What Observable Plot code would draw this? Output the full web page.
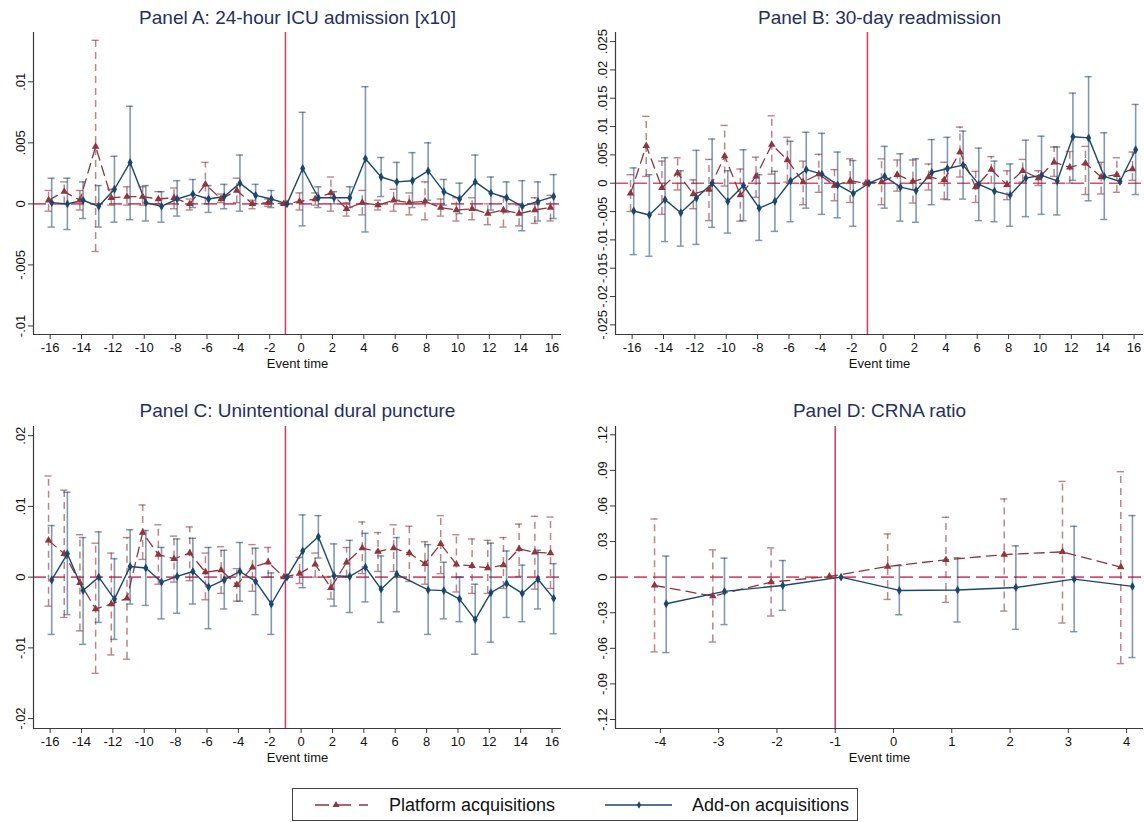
<!DOCTYPE html>
<html>
<head>
<meta charset="utf-8">
<script src="https://cdn.jsdelivr.net/npm/d3@7"></script>
<script src="https://cdn.jsdelivr.net/npm/@observablehq/plot@0.6"></script>
<style>
  html, body { margin: 0; padding: 0; background: #fff; }
  #wrap { position: relative; width: 1144px; height: 822px; background: #fff; font-family: "Liberation Sans", Arial, sans-serif; }
  .pnl { position: absolute; }
  .pnl svg { overflow: visible; }
  #legend { position: absolute; left: 292px; top: 788px; width: 564px; height: 31px; border: 1px solid #444; background: #fff; }
</style>
</head>
<body>
<div id="wrap">
  <div id="pA" class="pnl" style="left:0px;top:0px"></div>
  <div id="pB" class="pnl" style="left:572px;top:0px"></div>
  <div id="pC" class="pnl" style="left:0px;top:393px"></div>
  <div id="pD" class="pnl" style="left:572px;top:393px"></div>
  <div id="legend"></div>
</div>
<script>
// ---------- Data ----------
const eventTimes = d3.range(-16, 17);          // -16 .. 16
const eventTimesD = [-4, -3, -2, -1, 0, 1, 2, 3, 4];

const seriesNames = ["Platform acquisitions", "Add-on acquisitions"];
const panelTitles = [
  "Panel A: 24-hour ICU admission [x10]",
  "Panel B: 30-day readmission",
  "Panel C: Unintentional dural puncture",
  "Panel D: CRNA ratio"
];
const xLabel = "Event time";

const xTicksLong = [-16, -14, -12, -10, -8, -6, -4, -2, 0, 2, 4, 6, 8, 10, 12, 14, 16];
const xTicksD = [-4, -3, -2, -1, 0, 1, 2, 3, 4];
const yTicksA = [-0.01, -0.005, 0, 0.005, 0.01];
const yTicksB = [-0.025, -0.02, -0.015, -0.01, -0.005, 0, 0.005, 0.01, 0.015, 0.02, 0.025];
const yTicksC = [-0.02, -0.01, 0, 0.01, 0.02];
const yTicksD = [-0.12, -0.09, -0.06, -0.03, 0, 0.03, 0.06, 0.09, 0.12];

// Panel A
const platA   = [0.0003,0.0010,0.0003,0.0047,0.0005,0.0006,0.0006,0.0004,0.0005,0.0000,0.0016,0.0004,0.0011,0.0000,0.0001,0,
                 0.0002,0.0004,0.0009,-0.0004,0.0001,-0.0001,0.0003,0.0001,0.0002,-0.0003,-0.0005,-0.0004,-0.0008,-0.0005,-0.0008,-0.0005,-0.0003];
const platAhi = [0.0011,0.0018,0.0011,0.0134,0.0012,0.0014,0.0014,0.0010,0.0013,0.0004,0.0034,0.0008,0.0021,0.0003,0.0004,null,
                 0.0009,0.0009,0.0022,0.0001,0.0011,0.0003,0.0012,0.0009,0.0018,0.0004,0.0005,0.0005,0.0000,0.0006,-0.0001,0.0005,0.0007];
const platAlo = [-0.0006,0.0000,-0.0005,-0.0039,-0.0001,-0.0001,-0.0001,0.0000,-0.0004,-0.0005,0.0000,0.0001,0.0001,-0.0004,-0.0002,null,
                 -0.0005,-0.0001,-0.0006,-0.0010,-0.0009,-0.0005,-0.0006,-0.0009,-0.0013,-0.0010,-0.0014,-0.0013,-0.0017,-0.0019,-0.0018,-0.0016,-0.0014];
const addA    = [0.0001,0.0000,0.0003,-0.0002,0.0012,0.0034,0.0001,-0.0002,0.0004,0.0008,0.0004,0.0006,0.0017,0.0007,0.0004,0,
                 0.0029,0.0005,0.0005,0.0005,0.0037,0.0022,0.0018,0.0019,0.0027,0.0010,0.0004,0.0018,0.0009,0.0005,-0.0002,0.0002,0.0006];
const addAhi  = [0.0021,0.0021,0.0018,0.0015,0.0039,0.0080,0.0015,0.0010,0.0019,0.0020,0.0015,0.0016,0.0040,0.0016,0.0011,null,
                 0.0075,0.0014,0.0010,0.0014,0.0096,0.0038,0.0034,0.0042,0.0050,0.0020,0.0017,0.0040,0.0022,0.0018,0.0019,0.0018,0.0024];
const addAlo  = [-0.0019,-0.0021,-0.0012,-0.0019,-0.0015,-0.0013,-0.0014,-0.0015,-0.0010,-0.0003,-0.0007,-0.0004,-0.0006,0.0000,-0.0003,null,
                 -0.0018,-0.0003,0.0000,-0.0003,-0.0023,0.0006,0.0003,-0.0003,0.0003,-0.0001,-0.0008,-0.0005,-0.0005,-0.0007,-0.0022,-0.0014,-0.0012];

// Panel B
const platB   = [-0.0018,0.0066,-0.0008,0.0018,-0.0019,-0.0011,0.0048,-0.0021,0.0012,0.0068,0.0041,0.0002,0.0016,-0.0004,0.0004,0,
                 0.0002,0.0015,0.0003,0.0011,0.0006,0.0055,-0.0007,0.0024,-0.0003,0.0022,0.0009,0.0037,0.0028,0.0035,0.0011,0.0015,0.0025];
const platBhi = [0.0015,0.0118,0.0039,0.0045,0.0006,0.0042,0.0102,0.0025,0.0046,0.0119,0.0081,0.0039,0.0051,0.0024,0.0043,null,
                 0.0043,0.0041,0.0041,0.0034,0.0037,0.0099,0.0021,0.0047,0.0022,0.0042,0.0022,0.0064,0.0056,0.0065,0.0037,0.0045,0.0055];
const platBlo = [-0.0050,0.0012,-0.0055,-0.0012,-0.0045,-0.0066,-0.0005,-0.0067,-0.0025,0.0016,0.0002,-0.0038,-0.0016,-0.0031,-0.0034,null,
                 -0.0038,-0.0014,-0.0035,-0.0012,-0.0028,0.0011,-0.0034,0.0000,-0.0029,0.0002,-0.0004,0.0012,0.0000,-0.0020,-0.0019,-0.0016,0.0005];
const addB    = [-0.0049,-0.0056,-0.0029,-0.0052,-0.0026,0.0000,-0.0032,-0.0004,-0.0044,-0.0032,0.0004,0.0024,0.0016,-0.0003,-0.0018,0,
                 0.0012,-0.0007,-0.0013,0.0019,0.0026,0.0032,-0.0002,-0.0014,-0.0021,0.0009,0.0014,0.0004,0.0082,0.0080,0.0012,0.0003,0.0059];
const addBhi  = [0.0027,0.0015,0.0045,0.0022,0.0058,0.0078,0.0022,0.0059,0.0015,0.0021,0.0074,0.0090,0.0088,0.0055,0.0040,null,
                 0.0065,0.0052,0.0043,0.0077,0.0081,0.0092,0.0062,0.0039,0.0034,0.0076,0.0083,0.0064,0.0159,0.0188,0.0089,null,0.0139];
const addBlo  = [-0.0126,-0.0129,-0.0103,-0.0111,-0.0108,-0.0078,-0.0088,-0.0066,-0.0101,-0.0085,-0.0068,-0.0044,-0.0055,-0.0061,-0.0076,null,
                 -0.0044,-0.0067,-0.0069,-0.0038,-0.0029,-0.0028,-0.0066,-0.0068,-0.0076,-0.0059,-0.0055,-0.0056,0.0005,-0.0031,-0.0064,null,-0.0020];

// Panel C
const platC   = [0.0052,0.0033,-0.0008,-0.0045,-0.0038,-0.0030,0.0063,0.0032,0.0026,0.0034,0.0007,0.0010,-0.0011,0.0014,0.0021,0,
                 0.0005,0.0018,-0.0015,0.0021,0.0041,0.0036,0.0041,0.0034,0.0019,0.0047,0.0018,0.0016,0.0013,0.0017,0.0040,0.0035,0.0034];
const platChi = [0.0143,0.0123,0.0060,0.0048,0.0034,0.0056,0.0102,0.0074,0.0058,0.0071,0.0034,0.0043,0.0012,0.0046,0.0042,null,
                 0.0028,0.0034,0.0001,0.0042,0.0078,0.0063,0.0074,0.0072,0.0050,0.0087,0.0060,0.0054,0.0052,0.0056,0.0075,0.0086,0.0085];
const platClo = [-0.0041,-0.0057,-0.0076,-0.0136,-0.0110,-0.0116,0.0025,-0.0010,-0.0007,-0.0005,-0.0032,-0.0023,-0.0034,-0.0020,0.0000,null,
                 -0.0009,0.0000,-0.0031,0.0000,0.0005,0.0008,0.0008,-0.0006,-0.0010,0.0005,-0.0021,-0.0023,-0.0023,-0.0016,0.0001,-0.0017,-0.0016];
const addC    = [-0.0004,0.0033,-0.0019,0.0000,-0.0031,0.0015,0.0013,-0.0007,0.0001,0.0008,-0.0014,-0.0004,0.0008,-0.0006,-0.0038,0,
                 0.0037,0.0057,0.0002,0.0001,0.0014,-0.0017,0.0004,null,-0.0018,-0.0019,-0.0031,-0.0060,-0.0022,-0.0009,-0.0023,-0.0003,-0.0030];
const addChi  = [0.0073,0.0120,0.0056,0.0064,0.0026,0.0067,0.0066,0.0042,0.0054,0.0055,0.0042,0.0038,0.0049,0.0041,0.0006,null,
                 0.0088,0.0087,0.0047,0.0052,0.0062,0.0030,0.0056,null,0.0046,0.0021,0.0000,-0.0010,0.0048,0.0037,0.0017,0.0038,0.0019];
const addClo  = [-0.0081,-0.0053,-0.0095,-0.0064,-0.0088,-0.0038,-0.0040,-0.0059,-0.0051,-0.0038,-0.0073,-0.0045,-0.0034,-0.0053,-0.0081,null,
                 -0.0015,0.0027,-0.0041,-0.0050,-0.0035,-0.0064,-0.0049,null,-0.0081,-0.0059,-0.0063,-0.0109,-0.0092,-0.0057,-0.0063,-0.0045,-0.0080];

// Panel D
const platD   = [-0.0070,-0.0160,-0.0042,0.0006,0.0090,0.0146,0.0190,0.0213,0.0084];
const platDhi = [0.0490,0.0230,0.0247,null,0.0364,0.0505,0.0659,0.0807,0.0889];
const platDlo = [-0.0630,-0.0547,-0.0328,null,-0.0188,-0.0213,-0.0286,-0.0387,-0.0729];
const addD    = [-0.0224,-0.0120,-0.0070,0.0000,-0.0112,-0.0109,-0.0087,-0.0017,-0.0078];
const addDhi  = [0.0177,0.0160,0.0140,null,0.0098,0.0163,0.0264,0.0429,0.0519];
const addDlo  = [-0.0636,-0.0400,-0.0280,null,-0.0317,-0.0378,-0.0440,-0.0460,-0.0678];

// ---------- Styling ----------
const RED = "#90353b";
const BLUE = "#1a476f";
const REF = "#d23c5e";
const TITLE = "#1f3060";
const AXIS = "#3a3a3a";
const FONT = "'Liberation Sans', Arial, sans-serif";

const fmtY = d => d === 0 ? "0" : String(d).replace("0.", ".");

function rows(ts, est, hi, lo, off) {
  return ts.map((t, i) => ({t, x: t + off, est: est[i], hi: hi[i], lo: lo[i]}));
}

function panel(el, cfg) {
  const {title, ts, plat, platHi, platLo, add, addHi, addLo, xDomain, yDomain, xTicks, yTicks,
         width, height, mt, mb, ml, mr, titleDy} = cfg;
  const off = 0.1;
  const pR = rows(ts, plat, platHi, platLo, -off);
  const aR = rows(ts, add, addHi, addLo, off);
  const pxPerUnit = (width - ml - mr) / (xDomain[1] - xDomain[0]);
  const cap = 3.6 / pxPerUnit;
  const pCI = pR.filter(d => d.hi != null && d.lo != null);
  const aCI = aR.filter(d => d.hi != null && d.lo != null);
  const aLine = aR.filter(d => d.est != null);
  const pLine = pR.filter(d => d.est != null);

  const chart = Plot.plot({
    width, height,
    marginTop: mt, marginBottom: mb, marginLeft: ml, marginRight: mr,
    style: {fontFamily: FONT, fontSize: "13px", color: "#111", background: "transparent", overflow: "visible"},
    x: {domain: xDomain, axis: null},
    y: {domain: yDomain, axis: null},
    marks: [
      // reference lines
      Plot.ruleY([0], {stroke: REF, strokeWidth: 1.6, strokeDasharray: "13,6", strokeOpacity: 0.9}),
      Plot.ruleX([-1], {stroke: REF, strokeWidth: 1.5}),
      // platform CIs (dashed)
      Plot.ruleX(pCI, {x: "x", y1: "lo", y2: "hi", stroke: RED, strokeOpacity: 0.6, strokeWidth: 1.5, strokeDasharray: "7,5"}),
      Plot.ruleY(pCI, {y: "hi", x1: d => d.x - cap, x2: d => d.x + cap, stroke: RED, strokeOpacity: 0.6, strokeWidth: 1.4}),
      Plot.ruleY(pCI, {y: "lo", x1: d => d.x - cap, x2: d => d.x + cap, stroke: RED, strokeOpacity: 0.6, strokeWidth: 1.4}),
      // add-on CIs
      Plot.ruleX(aCI, {x: "x", y1: "lo", y2: "hi", stroke: BLUE, strokeOpacity: 0.55, strokeWidth: 1.6}),
      Plot.ruleY(aCI, {y: "hi", x1: d => d.x - cap, x2: d => d.x + cap, stroke: BLUE, strokeOpacity: 0.55, strokeWidth: 1.5}),
      Plot.ruleY(aCI, {y: "lo", x1: d => d.x - cap, x2: d => d.x + cap, stroke: BLUE, strokeOpacity: 0.55, strokeWidth: 1.5}),
      // estimate lines
      Plot.line(pLine, {x: "x", y: "est", stroke: RED, strokeWidth: 1.3, strokeDasharray: "10,6"}),
      Plot.line(aLine, {x: "x", y: "est", stroke: BLUE, strokeWidth: 1.4}),
      Plot.dot(pLine, {x: "x", y: "est", symbol: "triangle", r: 2.8, fill: RED, stroke: "none"}),
      Plot.dot(aLine, {x: "x", y: "est", symbol: "diamond", r: 2.7, fill: BLUE, stroke: "none"}),
      // axes
      Plot.ruleX([xDomain[0]], {stroke: AXIS, strokeWidth: 1.2}),
      Plot.ruleY([yDomain[0]], {stroke: AXIS, strokeWidth: 1.2}),
      Plot.axisX(xTicks, {tickSize: 5, tickPadding: 3, tickFormat: d => String(d), stroke: AXIS, fill: "#111", fontSize: 13, label: null}),
      Plot.axisY(yTicks, {tickSize: 5, tickFormat: () => "", stroke: AXIS, label: null}),
      Plot.text(yTicks, {y: d => d, text: fmtY, frameAnchor: "left", dx: -13, rotate: -90, textAnchor: "middle", lineAnchor: "middle", fontSize: 13, fill: "#111"}),
      Plot.text([xLabel], {text: d => d, frameAnchor: "bottom", dy: 29, lineAnchor: "middle", fontSize: 13, fill: "#111"}),
      Plot.text([title], {text: d => d, frameAnchor: "top", dy: titleDy, lineAnchor: "middle", fontSize: 19, fill: TITLE})
    ]
  });
  document.getElementById(el).appendChild(chart);
}

const common = {width: 572, height: 375};
panel("pA", {...common, title: panelTitles[0], ts: eventTimes, plat: platA, platHi: platAhi, platLo: platAlo,
  add: addA, addHi: addAhi, addLo: addAlo, xDomain: [-17.06, 16.6], yDomain: [-0.0107, 0.01404],
  xTicks: xTicksLong, yTicks: yTicksA, mt: 32, mb: 41, ml: 33, mr: 11, titleDy: -15});
panel("pB", {...common, title: panelTitles[1], ts: eventTimes, plat: platB, platHi: platBhi, platLo: platBlo,
  add: addB, addHi: addBhi, addLo: addBlo, xDomain: [-17.06, 16.6], yDomain: [-0.0267, 0.0266],
  xTicks: xTicksLong, yTicks: yTicksB, mt: 32, mb: 41, ml: 43, mr: 1, titleDy: -15});
panel("pC", {...common, title: panelTitles[2], ts: eventTimes, plat: platC, platHi: platChi, platLo: platClo,
  add: addC, addHi: addChi, addLo: addClo, xDomain: [-17.06, 16.6], yDomain: [-0.0214, 0.0213],
  xTicks: xTicksLong, yTicks: yTicksC, mt: 33, mb: 40, ml: 33, mr: 11, titleDy: -16});
panel("pD", {...common, title: panelTitles[3], ts: eventTimesD, plat: platD, platHi: platDhi, platLo: platDlo,
  add: addD, addHi: addDhi, addLo: addDlo, xDomain: [-4.77, 4.29], yDomain: [-0.1276, 0.127],
  xTicks: xTicksD, yTicks: yTicksD, mt: 33, mb: 40, ml: 43, mr: 1, titleDy: -16});

// ---------- Legend ----------
const lg = d3.select("#legend").append("svg").attr("width", 564).attr("height", 31)
  .style("font-family", FONT).style("overflow", "visible");
const cy = 16;
lg.append("line").attr("x1", 22).attr("x2", 75).attr("y1", cy).attr("y2", cy)
  .attr("stroke", RED).attr("stroke-width", 1.4).attr("stroke-dasharray", "14,8");
lg.append("path").attr("d", d3.symbol(d3.symbolTriangle, 22)()).attr("transform", `translate(43,${cy})`).attr("fill", RED);
lg.append("text").attr("x", 96).attr("y", cy).attr("dy", "0.35em").attr("font-size", 18).attr("fill", "#111").text(seriesNames[0]);
lg.append("line").attr("x1", 312).attr("x2", 379).attr("y1", cy).attr("y2", cy)
  .attr("stroke", BLUE).attr("stroke-width", 1.4);
lg.append("path").attr("d", d3.symbol(d3.symbolDiamond, 16)()).attr("transform", `translate(346,${cy})`).attr("fill", BLUE);
lg.append("text").attr("x", 399).attr("y", cy).attr("dy", "0.35em").attr("font-size", 18).attr("fill", "#111").text(seriesNames[1]);
</script>
</body>
</html>
